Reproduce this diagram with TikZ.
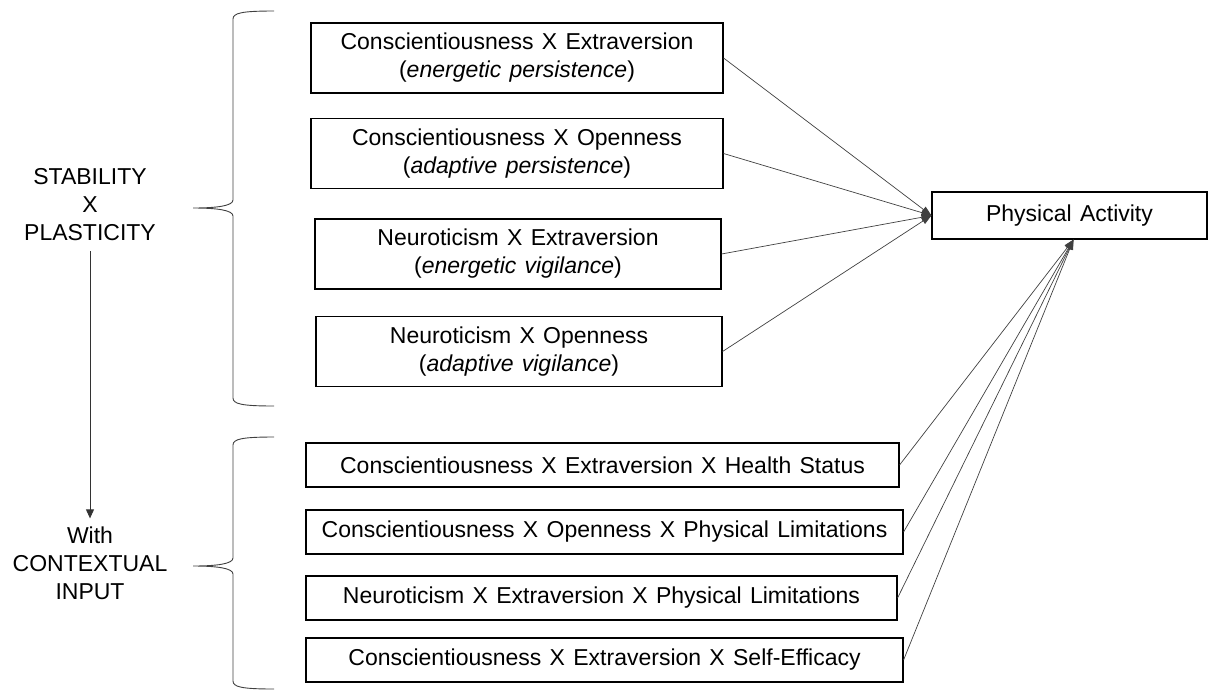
\documentclass[tikz,border=0pt]{standalone}
\usepackage{fontspec}
\setmainfont{Liberation Sans}[WordSpace=1.3]
\usetikzlibrary{arrows.meta,calc}
\begin{document}
\begin{tikzpicture}[x=1pt,y=-1pt,
  txt/.style={font=\fontsize{23}{28}\selectfont},
  box/.style={txt,draw=black,line width=1.1pt,inner sep=0pt,align=center},
  conn/.style={draw=black!75,line width=0.7pt,-{Triangle[length=10pt,width=7pt]}},
  vconn/.style={draw=black!80,line width=0.9pt,-{Triangle[length=9pt,width=8pt]}},
  brace/.style={draw=black!75,line width=0.9pt},
  lbl/.style={txt,align=center,inner sep=0pt}]
\useasboundingbox (0,0) rectangle (1209,694);

% top boxes
\node[box,minimum width=412pt,minimum height=70pt] (b1) at (517,58)
  {Conscientiousness X Extraversion\\(\textit{energetic persistence})};
\node[box,minimum width=412pt,minimum height=70pt] (b2) at (517,153.5)
  {Conscientiousness X Openness\\(\textit{adaptive persistence})};
\node[box,minimum width=406pt,minimum height=70pt] (b3) at (518,254)
  {Neuroticism X Extraversion\\(\textit{energetic vigilance})};
\node[box,minimum width=406pt,minimum height=70pt] (b4) at (519,351.5)
  {Neuroticism X Openness\\(\textit{adaptive vigilance})};

% bottom boxes
\node[box,minimum width=593pt,minimum height=44pt] (b5) at (602.5,465)
  {Conscientiousness X Extraversion X Health Status};
\node[box,minimum width=597pt,minimum height=44pt] (b6) at (604.5,532)
  {Conscientiousness X Openness X Physical Limitations};
\node[box,minimum width=591pt,minimum height=44pt] (b7) at (601.5,598)
  {Neuroticism X Extraversion X Physical Limitations};
\node[box,minimum width=597pt,minimum height=44pt] (b8) at (604.5,660)
  {Conscientiousness X Extraversion X Self-Efficacy};

% outcome
\node[box,minimum width=275pt,minimum height=47pt] (pa) at (1069.5,215.5) {Physical Activity};
\coordinate (pas) at ($(pa.south)+(4,0)$);

% left labels
\node[lbl] (stab) at (90,205) {STABILITY\\X\\PLASTICITY};
\node[lbl] (ctx) at (90,563) {With\\CONTEXTUAL\\INPUT};
\draw[vconn,shorten <=10pt,shorten >=8pt] (stab) -- (ctx);

% braces
\coordinate (t1) at (274,11);
\coordinate (t2) at (274,406);
\coordinate (tt) at (193,208);
\draw[brace] (t1) .. controls (242,11) and (233,13) .. (233,19) -- (233,200)
  .. controls (233,206) and (216,208) .. (tt)
  .. controls (216,208) and (233,210) .. (233,216) -- (233,398)
  .. controls (233,404) and (242,406) .. (t2);
\coordinate (u1) at (274,437);
\coordinate (u2) at (274,689);
\coordinate (ut) at (193,566);
\draw[brace] (u1) .. controls (242,437) and (233,439) .. (233,445) -- (233,558)
  .. controls (233,564) and (216,566) .. (ut)
  .. controls (216,566) and (233,568) .. (233,574) -- (233,681)
  .. controls (233,687) and (242,689) .. (u2);

% connectors
\foreach \b in {b1,b2,b3,b4} \draw[conn] (\b.east) -- (pa.west);
\foreach \b in {b5,b6,b7,b8} \draw[conn] (\b.east) -- (pas);
\end{tikzpicture}
\end{document}
